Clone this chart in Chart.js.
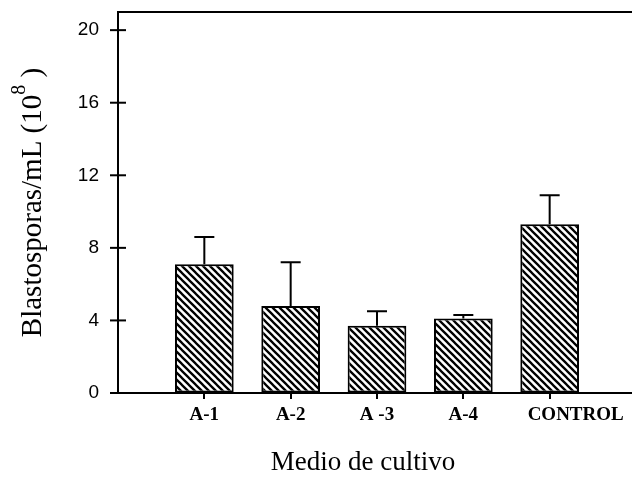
<!DOCTYPE html>
<html>
<head>
<meta charset="utf-8">
<script src="https://cdn.jsdelivr.net/npm/chart.js@4"></script>
<style>
  html, body { margin: 0; padding: 0; background: #fff; overflow: hidden; }
</style>
</head>
<body>
<canvas id="chart" width="640" height="486"></canvas>
<script>
// values
const categories = ['A-1', 'A-2', 'A -3', 'A-4', 'CONTROL'];
const means = [7.1, 4.8, 3.7, 4.1, 9.3];
const errors = [1.5, 2.4, 0.8, 0.2, 1.6];
const yTicks = [0, 4, 8, 12, 16, 20];

// blank slot on each side so the bars sit where they do in the picture
const labels = [''].concat(categories, ['']);
const barData = [null].concat(means, [null]);
const errData = [null].concat(errors, [null]);

function hatch() {
  const s = 7;
  const c = document.createElement('canvas');
  c.width = s; c.height = s;
  const g = c.getContext('2d');
  g.fillStyle = '#fff';
  g.fillRect(0, 0, s, s);
  g.strokeStyle = '#000';
  g.lineWidth = 2.3;
  g.lineCap = 'square';
  g.beginPath();
  g.moveTo(0, 0); g.lineTo(s, s);
  g.moveTo(-s, 0); g.lineTo(0, s);
  g.moveTo(s, 0); g.lineTo(2 * s, s);
  g.stroke();
  return g.createPattern(c, 'repeat');
}

const extras = {
  id: 'extras',
  afterDatasetsDraw(chart) {
    const ctx = chart.ctx;
    const x = chart.scales.x;
    const y = chart.scales.y;
    const area = chart.chartArea;
    const meta = chart.getDatasetMeta(0);
    ctx.save();
    ctx.strokeStyle = '#000';
    ctx.lineWidth = 2;
    // error bars (upper only)
    meta.data.forEach((bar, i) => {
      if (barData[i] == null) return;
      const top = y.getPixelForValue(barData[i] + errData[i]);
      ctx.beginPath();
      ctx.moveTo(bar.x, bar.y);
      ctx.lineTo(bar.x, top);
      ctx.moveTo(bar.x - 10, top);
      ctx.lineTo(bar.x + 10, top);
      ctx.stroke();
    });
    // top frame line
    ctx.beginPath();
    ctx.moveTo(area.left, area.top);
    ctx.lineTo(area.right, area.top);
    ctx.stroke();
    // y ticks cross the axis
    yTicks.forEach(v => {
      const py = y.getPixelForValue(v);
      ctx.beginPath();
      ctx.moveTo(area.left - 8, py);
      ctx.lineTo(area.left + 8, py);
      ctx.stroke();
    });
    // category labels (the CONTROL label sits right of its bar in the original)
    ctx.fillStyle = '#000';
    ctx.textBaseline = 'middle';
    ctx.textAlign = 'center';
    ctx.font = 'bold 19px "Liberation Serif"';
    categories.forEach((c, i) => {
      const px = x.getPixelForTick(i + 1) + (c === 'CONTROL' ? 26 : 0);
      ctx.fillText(c, px, area.bottom + 22);
    });
    // axis titles
    ctx.font = '27px "Liberation Serif"';
    ctx.fillText('Medio de cultivo', 363, 463);

    ctx.translate(33, (area.top + area.bottom) / 2);
    ctx.rotate(-Math.PI / 2);
    const big = '29px "Liberation Serif"';
    const small = '20px "Liberation Serif"';
    const t1 = 'Blastosporas/mL (10', t2 = '8', t3 = ' )';
    ctx.font = big;
    const w1 = ctx.measureText(t1).width, w3 = ctx.measureText(t3).width;
    ctx.font = small;
    const w2 = ctx.measureText(t2).width;
    let x0 = -(w1 + w2 + w3) / 2;
    ctx.textAlign = 'left';
    ctx.font = big;
    ctx.fillText(t1, x0, 0);
    ctx.font = small;
    ctx.fillText(t2, x0 + w1, -13);
    ctx.font = big;
    ctx.fillText(t3, x0 + w1 + w2, 0);
    ctx.restore();
  }
};

new Chart(document.getElementById('chart'), {
  type: 'bar',
  data: {
    labels: labels,
    datasets: [{
      data: barData,
      backgroundColor: hatch(),
      borderColor: '#000',
      borderWidth: 2,
      borderSkipped: false,
      barPercentage: 0.68,
      categoryPercentage: 1
    }]
  },
  options: {
    responsive: false,
    animation: false,
    layout: { padding: { top: 12, right: 4, left: 0, bottom: 0 } },
    plugins: { legend: { display: false }, tooltip: { enabled: false } },
    scales: {
      x: {
        offset: false,
        afterFit(scale) { scale.height = 93; },
        border: { color: '#000', width: 2 },
        grid: {
          offset: false,
          drawOnChartArea: false,
          tickLength: 6,
          lineWidth: 2,
          color: ctx => (ctx.tick && ctx.tick.label) ? '#000' : 'rgba(0,0,0,0)'
        },
        ticks: {
          color: 'rgba(0,0,0,0)',
          padding: 4,
          maxRotation: 0,
          autoSkip: false,
          font: { family: 'Liberation Serif', size: 19, weight: 'bold' }
        }
      },
      y: {
        min: 0,
        max: 21,
        afterFit(scale) { scale.width = 118; },
        border: { color: '#000', width: 2 },
        grid: {
          drawOnChartArea: false,
          tickLength: 19,
          color: 'rgba(0,0,0,0)'
        },
        ticks: {
          stepSize: 4,
          includeBounds: false,
          color: '#000',
          padding: 0,
          font: { family: 'Liberation Sans', size: 19 }
        }
      }
    }
  },
  plugins: [extras]
});
</script>
</body>
</html>
